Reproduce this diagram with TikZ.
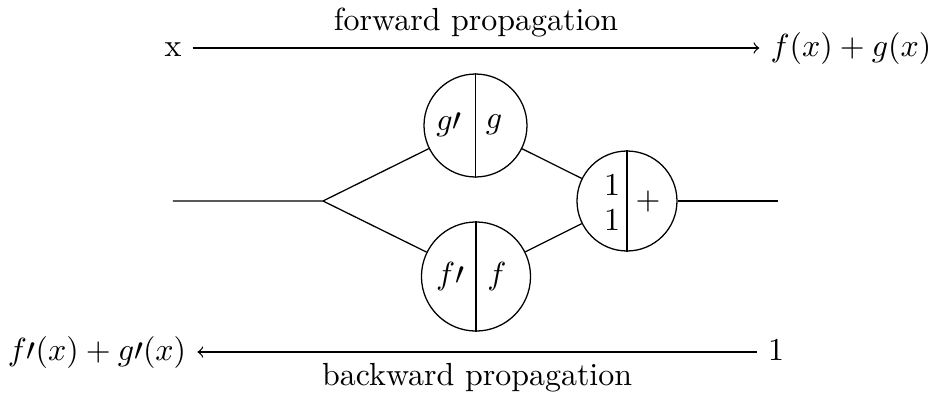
\documentclass[tikz,border=0pt]{standalone}
\begin{document}
\begin{tikzpicture}[x=0.011cm,y=-0.011cm,
  unit/.style={circle,draw,inner sep=0pt},
  term/.style={text height=1.5ex,text depth=.25ex},
  every path/.style={line width=0.4pt}]
\useasboundingbox (0,0) rectangle (933,394);

% forward pass
\node[term] (xin) at (173,48) {x};
\node[term] (fout) at (851,48) {$f(x)+g(x)$};
\draw[->] (xin) -- node[above] (fwd) {forward propagation} (fout);

% backward pass
\node[term] (one) at (776,352) {1};
\node[term] (bout) at (97,352) {$f\prime(x)+g\prime(x)$};
\draw[->] (one) -- node[below] (bwd) {backward propagation} (bout);

% computation graph
\coordinate (in) at (173,201);
\coordinate (split) at (323,201);
\coordinate (out) at (778,201);
\node[unit,minimum size=1.133cm] (g) at (475.5,125.5) {};
\node[unit,minimum size=1.2cm] (f) at (476,276.5) {};
\node[unit,minimum size=1.1cm] (add) at (627,201) {};
\draw (g.north) -- (g.south);
\draw (f.north) -- (f.south);
\draw (add.north) -- (add.south);

\node (gp) at (449,125) {$g\prime$};
\node (gv) at (494,125) {$g$};
\node (fp) at (450,277) {$f\prime$};
\node (fv) at (497,277) {$f$};
\node (a1) at (612,185) {$1$};
\node (a2) at (612,220) {$1$};
\node (plus) at (648,202) {$+$};

\draw (in) -- (split) -- (g);
\draw (split) -- (f);
\draw (g) -- (add);
\draw (f) -- (add);
\draw (add) -- (out);
\end{tikzpicture}
\end{document}
